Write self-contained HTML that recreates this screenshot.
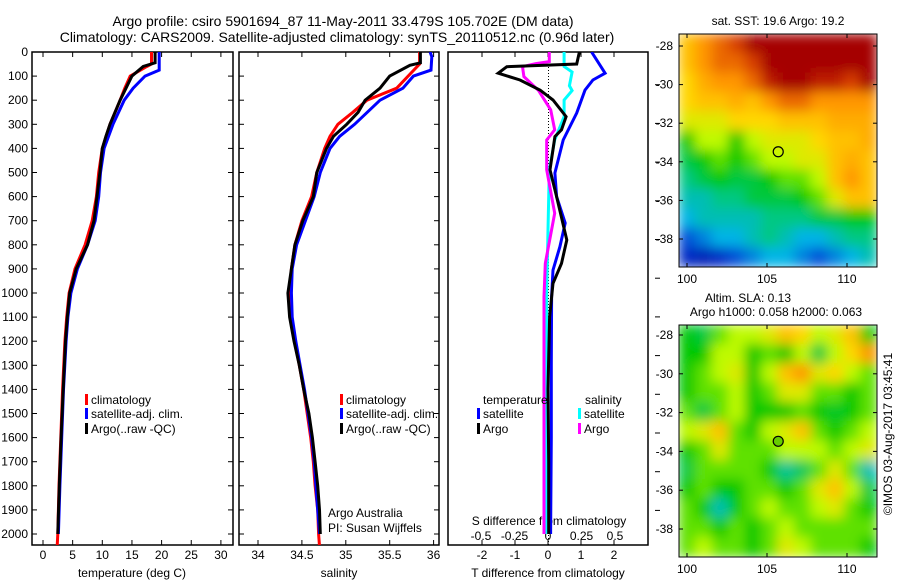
<!DOCTYPE html>
<html><head><meta charset="utf-8">
<style>
html,body{margin:0;padding:0;background:#fff;}
svg{display:block;font-family:"Liberation Sans",sans-serif;}
text{fill:#000;}
</style></head>
<body>
<svg id="fig" width="900" height="580" viewBox="0 0 900 580" xmlns="http://www.w3.org/2000/svg">
<defs>
<clipPath id="c1"><rect x="32" y="52" width="201" height="493"/></clipPath>
<clipPath id="c2"><rect x="239" y="52" width="200" height="493"/></clipPath>
<clipPath id="c3"><rect x="448" y="52" width="200" height="493"/></clipPath>
<clipPath id="cm1"><rect x="679" y="34" width="198" height="233"/></clipPath>
<clipPath id="cm2"><rect x="679" y="325" width="198" height="232"/></clipPath>
<filter id="blur" x="-10%" y="-10%" width="120%" height="120%"><feGaussianBlur stdDeviation="6" edgeMode="duplicate"/></filter>
</defs>
<text x="343" y="26" font-size="14" text-anchor="middle">Argo profile: csiro 5901694_87 11-May-2011 33.479S 105.702E (DM data)</text>
<text x="337" y="42" font-size="14" text-anchor="middle">Climatology: CARS2009. Satellite-adjusted climatology: synTS_20110512.nc (0.96d later)</text>
<g id="p1"></g>
<g id="p2"></g>
<g id="p3"></g>
<g id="m1"></g>
<g id="m2"></g>
<text transform="translate(892,434) rotate(-90)" font-size="12" text-anchor="middle">©IMOS 03-Aug-2017 03:45:41</text>
</svg>
<script>
// ---- data ----
const tClimDepth=[0,50,60,100,150,200,300,400,500,600,700,800,900,1000,1100,1200,1400,1600,1800,2000,2050];
const tClim=[18.3,18.3,17.5,14.7,13.8,13,11.3,10,9.4,9,8.3,7.1,5.4,4.4,4.0,3.7,3.3,3.0,2.7,2.5,2.4];
const tSatDepth=[0,75,100,150,200,300,400,500,600,700,800,900,1000,1100,1200,1400,1600,1800,2000];
const tSat=[19.6,19.6,17.2,15.2,13.7,11.8,10.3,9.7,9.4,8.8,7.5,5.8,4.7,4.2,3.9,3.45,3.15,2.85,2.6];
const tArgoDepth=[0,45,60,100,150,200,300,350,400,500,600,700,800,900,1000,1100,1200,1400,1600,1800,2000];
const tArgo=[18.9,18.9,16.9,15,14,13,11.3,10.6,10,9.6,9.1,8.6,7.5,5.6,4.5,4.1,3.8,3.4,3.05,2.75,2.5];
const sClimDepth=[0,50,100,150,200,250,300,350,400,500,600,700,800,900,1000,1100,1200,1300,1400,1500,1600,1700,1800,1900,2000,2050];
const sClim=[35.84,35.84,35.71,35.58,35.24,35.08,34.91,34.82,34.76,34.67,34.61,34.5,34.42,34.38,34.36,34.38,34.42,34.47,34.52,34.56,34.6,34.63,34.65,34.68,34.69,34.7];
const sSatDepth=[0,20,75,100,150,200,300,350,400,500,600,700,800,900,1000,1100,1200,1300,1400,1500,1600,1700,1800,1900,2000];
const sSat=[35.96,35.98,35.97,35.77,35.65,35.39,35.1,34.93,34.82,34.71,34.64,34.54,34.44,34.39,34.38,34.39,34.43,34.48,34.53,34.57,34.61,34.64,34.66,34.68,34.7];
const sArgoDepth=[0,45,55,100,150,200,250,300,350,400,500,600,700,800,900,1000,1100,1200,1300,1400,1500,1600,1700,1800,1900,2000];
const sArgo=[35.85,35.85,35.73,35.5,35.39,35.22,35.14,35.01,34.86,34.78,34.67,34.63,34.51,34.42,34.38,34.34,34.36,34.41,34.47,34.52,34.58,34.62,34.65,34.68,34.7,34.71];
const dTSatDepth=[0,88,116,158,253,365,502,600,710,808,905,1015,1300,1600,2000];
const dTSat=[1.32,1.73,1.36,1.12,0.87,0.46,0.21,0.26,0.52,0.36,0.15,0.11,0.1,0.1,0.08];
const dTArgoDepth=[0,50,61,88,116,158,199,268,323,351,489,600,780,877,960,1100,1400,1700,2000];
const dTArgo=[0.95,0.87,-1.25,-1.51,-0.85,-0.24,0.15,0.55,0.41,0.21,0.06,0.26,0.57,0.41,0.15,0.05,0.0,0.02,0.02];
const dSSatDepth=[0,60,83,140,160,199,268,365,489,738,1000,1500,2000];
const dSSat=[0.12,0.12,0.18,0.16,0.18,0.12,0.12,0.05,0.01,0,-0.01,-0.01,-0.01];
const dSArgoDepth=[0,40,48,61,102,160,240,323,365,489,669,877,1015,1500,2000];
const dSArgo=[0.01,0.01,-0.09,-0.19,-0.18,-0.07,0.02,0.05,-0.01,-0.01,0.05,-0.02,-0.03,-0.03,-0.03];
const depthTicks=[0,100,200,300,400,500,600,700,800,900,1000,1100,1200,1300,1400,1500,1600,1700,1800,1900,2000];
const tTicks=[0,5,10,15,20,25,30];
const sTicks=[34,34.5,35,35.5,36];
const dTTicks=[-2,-1,0,1,2];
const dSTicks=[-0.5,-0.25,0,0.25,0.5];
const dSTickLabels=["-0.5","-0.25","0","0.25","0.5"];
const latTicks=[-28,-30,-32,-34,-36,-38];
const lonTicks=[100,105,110];
const argoLon=105.702, argoLat=-33.479;
const sstGrid=[
[0.7,0.8,0.85,0.9,1,1,1,1,1,1,1,1],
[0.7,0.8,0.85,0.85,0.9,1,1,1,1,1,1,1],
[0.65,0.75,0.8,0.8,0.85,0.95,1,1,0.95,0.95,0.9,1],
[0.65,0.7,0.7,0.75,0.7,0.8,0.85,0.85,0.8,0.8,0.8,0.8],
[0.6,0.6,0.6,0.65,0.65,0.65,0.7,0.7,0.7,0.75,0.75,0.75],
[0.45,0.55,0.55,0.45,0.55,0.6,0.6,0.6,0.65,0.7,0.7,0.75],
[0.4,0.45,0.5,0.45,0.5,0.55,0.55,0.6,0.6,0.7,0.75,0.7],
[0.35,0.4,0.45,0.4,0.4,0.45,0.5,0.5,0.55,0.7,0.8,0.7],
[0.3,0.3,0.35,0.35,0.4,0.4,0.4,0.45,0.5,0.6,0.7,0.7],
[0.25,0.3,0.3,0.3,0.3,0.35,0.35,0.35,0.4,0.4,0.45,0.45],
[0.15,0.2,0.25,0.25,0.3,0.35,0.3,0.25,0.25,0.3,0.35,0.35],
[0.1,0.08,0.1,0.15,0.2,0.25,0.25,0.2,0.15,0.2,0.25,0.3]];
const slaGrid=[
[0.45,0.4,0.5,0.55,0.55,0.6,0.7,0.65,0.55,0.6,0.7,0.45],
[0.45,0.45,0.55,0.55,0.45,0.5,0.45,0.55,0.4,0.55,0.65,0.8],
[0.45,0.5,0.55,0.6,0.45,0.55,0.7,0.8,0.6,0.65,0.55,0.5],
[0.45,0.5,0.5,0.55,0.45,0.5,0.6,0.6,0.5,0.5,0.45,0.5],
[0.5,0.4,0.5,0.55,0.45,0.45,0.45,0.5,0.45,0.42,0.45,0.5],
[0.55,0.6,0.7,0.5,0.45,0.55,0.6,0.7,0.5,0.45,0.5,0.55],
[0.45,0.5,0.6,0.5,0.5,0.5,0.55,0.55,0.55,0.5,0.55,0.6],
[0.4,0.5,0.5,0.5,0.5,0.45,0.33,0.38,0.5,0.6,0.5,0.3],
[0.45,0.5,0.45,0.45,0.5,0.5,0.45,0.5,0.6,0.7,0.55,0.4],
[0.5,0.45,0.3,0.45,0.5,0.55,0.5,0.5,0.55,0.6,0.5,0.45],
[0.5,0.5,0.45,0.5,0.45,0.5,0.55,0.5,0.5,0.5,0.5,0.5],
[0.5,0.55,0.5,0.5,0.45,0.5,0.6,0.55,0.5,0.5,0.5,0.45]];

// ---- helpers ----
const NS="http://www.w3.org/2000/svg";
function mk(tag,attrs,parent){const e=document.createElementNS(NS,tag);for(const k in attrs)e.setAttribute(k,attrs[k]);parent.appendChild(e);return e;}
const yD=d=>52+d*0.241;
const xT=v=>43+v*5.93;
const xS=v=>258+(v-34)*87.8;
const xdT=v=>548+v*33;
const xdS=v=>548+v*134;

function frame(g,x0,x1,name){
  const r=mk('rect',{x:x0,y:52,width:x1-x0,height:493,fill:'none',stroke:'#000','stroke-width':1.5},g);
  
  
}
function xAxis(g,ticks,fx,labels,ly,name){
  ticks.forEach((t,i)=>{
    const x=fx(t);
    mk('line',{x1:x,x2:x,y1:545,y2:540,stroke:'#000'},g);
    mk('line',{x1:x,x2:x,y1:52,y2:57,stroke:'#000'},g);
    const tx=mk('text',{x:x,y:ly,'font-size':12,'text-anchor':'middle'},g);
    tx.textContent=labels?labels[i]:String(t);
    
    
  });
}
function yTicks(g,x0,x1){
  depthTicks.forEach(d=>{const y=yD(d);
    mk('line',{x1:x0,x2:x0+5,y1:y,y2:y,stroke:'#000'},g);
    mk('line',{x1:x1,x2:x1-5,y1:y,y2:y,stroke:'#000'},g);});
}
function line(g,depths,vals,fx,color,clip,name){
  const pts=depths.map((d,i)=>fx(vals[i]).toFixed(1)+','+yD(d).toFixed(1)).join(' ');
  const p=mk('polyline',{points:pts,fill:'none',stroke:color,'stroke-width':3,'stroke-linejoin':'miter','clip-path':'url(#'+clip+')'},g);
  
  
}
function legendEntry(g,x,y,color,label,name){
  mk('rect',{x:x,y:y-10,width:3,height:11,fill:color},g);
  const t=mk('text',{x:x+6,y:y,'font-size':12},g);t.textContent=label;
  
  
}
function txt(g,x,y,s,name,anchor,size){
  const t=mk('text',{x:x,y:y,'font-size':size||12,'text-anchor':anchor||'start'},g);t.textContent=s;
  
  
  return t;
}

// ---- panel 1 ----
const p1=document.getElementById('p1');
frame(p1,32,233,'temperature-panel');
yTicks(p1,32,233);
depthTicks.forEach(d=>{const t=txt(p1,28,yD(d)+4,String(d),'depth-tick-label','end');});
xAxis(p1,tTicks,xT,null,559,'temperature-axis');
txt(p1,132,577,'temperature (deg C)','temperature-axis-title','middle');
line(p1,tClimDepth,tClim,xT,'#f00','c1','temperature-climatology-line');
line(p1,tSatDepth,tSat,xT,'#00f','c1','temperature-satellite-line');
line(p1,tArgoDepth,tArgo,xT,'#000','c1','temperature-argo-line');
legendEntry(p1,85,404,'#f00','climatology','legend-climatology');
legendEntry(p1,85,418,'#00f','satellite-adj. clim.','legend-satellite-adj');
legendEntry(p1,85,433,'#000','Argo(..raw -QC)','legend-argo');

// ---- panel 2 ----
const p2=document.getElementById('p2');
frame(p2,239,439,'salinity-panel');
yTicks(p2,239,439);
xAxis(p2,sTicks,xS,null,559,'salinity-axis');
txt(p2,339,577,'salinity','salinity-axis-title','middle');
line(p2,sClimDepth,sClim,xS,'#f00','c2','salinity-climatology-line');
line(p2,sSatDepth,sSat,xS,'#00f','c2','salinity-satellite-line');
line(p2,sArgoDepth,sArgo,xS,'#000','c2','salinity-argo-line');
legendEntry(p2,340,404,'#f00','climatology','legend-climatology-2');
legendEntry(p2,340,418,'#00f','satellite-adj. clim.','legend-satellite-adj-2');
legendEntry(p2,340,433,'#000','Argo(..raw -QC)','legend-argo-2');
txt(p2,328,517,'Argo Australia','credit-argo-australia');
txt(p2,328,532,'PI: Susan Wijffels','credit-pi');

// ---- panel 3 ----
const p3=document.getElementById('p3');
frame(p3,448,648,'difference-panel');
xAxis(p3,dTTicks,xdT,null,559,'t-diff-axis');
txt(p3,548,577,'T difference from climatology','t-diff-axis-title','middle');
dSTicks.forEach((t,i)=>{const tx=txt(p3,xdS(t),540,dSTickLabels[i],'s-diff-tick-label','middle');});
txt(p3,549,525,'S difference from climatology','s-diff-axis-title','middle');
mk('line',{x1:548.5,x2:548.5,y1:52,y2:545,stroke:'#000','stroke-dasharray':'1,2'},p3);
for(let y=46;y<545;y+=38.7){ if(y>52) mk('line',{x1:655,x2:660,y1:y,y2:y,stroke:'#000'},p3); }
line(p3,dSSatDepth,dSSat,xdS,'#0ff','c3','s-diff-satellite-line');
line(p3,dSArgoDepth,dSArgo,xdS,'#f0f','c3','s-diff-argo-line');
line(p3,dTSatDepth,dTSat,xdT,'#00f','c3','t-diff-satellite-line');
line(p3,dTArgoDepth,dTArgo,xdT,'#000','c3','t-diff-argo-line');
txt(p3,483,404,'temperature','legend-temperature-heading');
txt(p3,585,404,'salinity','legend-salinity-heading');
legendEntry(p3,477,418,'#00f','satellite','legend-t-satellite');
legendEntry(p3,477,433,'#000','Argo','legend-t-argo');
legendEntry(p3,578,418,'#0ff','satellite','legend-s-satellite');
legendEntry(p3,578,433,'#f0f','Argo','legend-s-argo');

// ---- maps ----
const cmapStops=[[0,0,0,130],[0.12,0,50,210],[0.25,0,180,230],[0.35,0,200,130],[0.45,0,200,0],[0.55,190,250,0],[0.65,255,215,0],[0.8,255,150,0],[0.9,215,60,0],[1,165,0,0]];
function cmap(v){
  v=Math.max(0,Math.min(1,v));
  for(let i=1;i<cmapStops.length;i++){const a=cmapStops[i-1],b=cmapStops[i];
    if(v<=b[0]){const f=(v-a[0])/(b[0]-a[0]);
      return 'rgb('+[1,2,3].map(k=>Math.round(a[k]+f*(b[k]-a[k]))).join(',')+')';}}
  return 'rgb(165,0,0)';
}
function map(gid,grid,x0,y0,w,h,latTop,latScale,clip,filled,name){
  const g=document.getElementById(gid);
  const lonX=lon=>687+(lon-100)*16;
  const latY=lat=>latTop+(-28-lat)*latScale;
  const inner=mk('g',{'clip-path':'url(#'+clip+')'},g);
  const bl=mk('g',{filter:'url(#blur)'},inner);
  const rows=grid.length, cols=grid[0].length;
  const cw=w/cols, ch=h/rows;
  grid.forEach((row,r)=>row.forEach((v,c)=>{
    const cell=mk('rect',{x:x0+c*cw-0.5,y:y0+r*ch-0.5,width:cw+1,height:ch+1,fill:cmap(v)},bl);
    
    
  }));
  mk('rect',{x:x0,y:y0,width:w,height:h,fill:'none',stroke:'#000','stroke-width':1},g);
  latTicks.forEach(l=>{const y=latY(l);
    mk('line',{x1:x0,x2:x0+4,y1:y,y2:y,stroke:'#000'},g);
    mk('line',{x1:x0+w,x2:x0+w-4,y1:y,y2:y,stroke:'#000'},g);
    txt(g,673,y+4,String(l),name+'-lat-label','end');});
  lonTicks.forEach(l=>{const x=lonX(l);
    mk('line',{x1:x,x2:x,y1:y0,y2:y0+4,stroke:'#000'},g);
    mk('line',{x1:x,x2:x,y1:y0+h,y2:y0+h-4,stroke:'#000'},g);
    txt(g,x,y0+h+16,String(l),name+'-lon-label','middle');});
  const c=mk('circle',{cx:lonX(argoLon),cy:latY(argoLat),r:5,fill:filled?'#6c0':'none',stroke:'#000','stroke-width':1.2},g);
  
  
}
map('m1',sstGrid,679,34,198,233,46,19.3,'cm1',false,'sst-map');
map('m2',slaGrid,679,325,198,232,335,19.4,'cm2',true,'sla-map');
const m1=document.getElementById('m1'), m2=document.getElementById('m2');
txt(m1,778,25,'sat. SST: 19.6 Argo: 19.2','sst-map-title','middle');
txt(m2,748,302,'Altim. SLA: 0.13','sla-map-title','middle');
txt(m2,776,316,'Argo h1000: 0.058 h2000: 0.063','sla-map-subtitle','middle');
</script>
</body></html>
